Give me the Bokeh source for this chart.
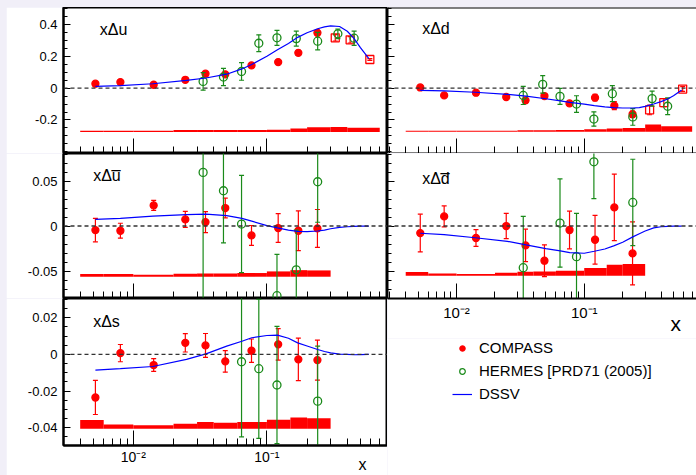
import numpy as np
from bokeh.plotting import figure
from bokeh.models import (Range1d, FixedTicker, Span, Label, Legend, LegendItem, Spacer,
                          ColumnDataSource, LogAxis)
from bokeh.layouts import column, row
from bokeh.embed import file_html
from bokeh.resources import INLINE

# ---------------- data ----------------
x_compass = [0.0052, 0.0080, 0.0142, 0.0245, 0.0347, 0.0488, 0.0767, 0.1215, 0.172, 0.239]
x_square = [0.325, 0.42, 0.59]
x_hermes = [0.0333, 0.0473, 0.0646, 0.087, 0.119, 0.166, 0.24, 0.34, 0.45]
x_dssv = [0.0052, 0.008, 0.014, 0.025, 0.035, 0.05, 0.065, 0.077, 0.1, 0.12, 0.145,
          0.17, 0.2, 0.24, 0.27, 0.3, 0.35, 0.4, 0.45, 0.5, 0.58]

# xΔu
u_compass = [0.0275, 0.0375, 0.021, 0.052, 0.090, 0.086, 0.142, 0.163, 0.221, 0.346]
u_compass_err = [0.006, 0.006, 0.006, 0.006, 0.01, 0.01, 0.01, 0.01, 0.016, 0.018]
u_square = [0.315, 0.3025, 0.179]
u_square_err = [0.02, 0.02, 0.006]
u_hermes = [0.042, 0.069, 0.104, 0.281, 0.315, 0.31, 0.294, 0.34, 0.3125]
u_hermes_err = [0.055, 0.054, 0.055, 0.053, 0.047, 0.047, 0.055, 0.03, 0.045]
u_dssv = [0.011, 0.015, 0.027, 0.048, 0.063, 0.087, 0.12, 0.148, 0.2, 0.24, 0.28,
          0.318, 0.347, 0.372, 0.384, 0.39, 0.386, 0.356, 0.31, 0.255, 0.185]

# xΔd
d_compass = [0.004, -0.046, -0.029, -0.056, -0.077, -0.05, -0.096, -0.06, -0.11, -0.164]
d_compass_err = [0.015, 0.006, 0.006, 0.006, 0.015, 0.008, 0.012, 0.02, 0.025, 0.02]
d_square = [-0.137, -0.091, -0.006]
d_square_err = [0.03, 0.025, 0.015]
d_hermes = [-0.046, 0.023, -0.052, -0.1, -0.194, -0.035, -0.181, -0.066, -0.114]
d_hermes_err = [0.057, 0.055, 0.05, 0.052, 0.045, 0.05, 0.052, 0.047, 0.052]
d_dssv = [-0.014, -0.018, -0.026, -0.039, -0.05, -0.067, -0.08, -0.09, -0.1, -0.11, -0.118,
          -0.123, -0.125, -0.125, -0.122, -0.115, -0.1, -0.085, -0.068, -0.048, -0.012]

# xΔū
ub_compass = [-0.0045, -0.0052, 0.0229, 0.0074, 0.0044, 0.020, -0.0104, -0.0022, -0.0052, -0.0026]
ub_compass_err = [0.013, 0.0083, 0.0056, 0.0089, 0.0117, 0.011, 0.011, 0.016, 0.022, 0.021]
x_hermes_ub = [0.0333, 0.0473, 0.0646, 0.119, 0.166, 0.24]
ub_hermes = [0.0596, 0.0392, 0.0022, -0.0774, -0.0486, 0.0492]
ub_hermes_err = [0.15, 0.058, 0.054, 0.046, 0.044, 0.045]
ub_dssv = [0.0074, 0.0085, 0.011, 0.0126, 0.0133, 0.0115, 0.0085, 0.0055, 0.0005, -0.002, -0.0045,
           -0.006, -0.0062, -0.0055, -0.0045, -0.003, -0.0015, -0.0008, -0.0003, 0.0, 0.0]

# xΔd̄
db_compass = [-0.0078, 0.0107, -0.0133, 0.0, -0.0215, -0.0385, -0.0044, -0.0152, 0.0207, -0.0304]
db_compass_err = [0.021, 0.0117, 0.0093, 0.014, 0.018, 0.0176, 0.021, 0.027, 0.037, 0.035]
x_hermes_db = [0.0333, 0.0646, 0.087, 0.119, 0.24]
db_hermes = [-0.0463, 0.0033, -0.034, 0.0714, 0.0262]
db_hermes_err = [0.057, 0.049, 0.048, 0.041, 0.048]
db_dssv = [-0.008, -0.0095, -0.013, -0.017, -0.021, -0.025, -0.0275, -0.0296, -0.0302, -0.028, -0.0255,
           -0.022, -0.018, -0.012, -0.0085, -0.0055, -0.002, -0.0008, -0.0003, 0.0, 0.0]

# xΔs
s_compass = [-0.0235, 0.0007, -0.0058, 0.0063, 0.0049, -0.0038, 0.0020, 0.0055, -0.0027, -0.0031]
s_compass_err = [0.0093, 0.0047, 0.0035, 0.005, 0.0065, 0.0059, 0.0064, 0.0086, 0.0116, 0.0109]
x_hermes_s = [0.0646, 0.087, 0.119, 0.24]
s_hermes = [-0.004, -0.0078, -0.0167, -0.0255]
s_hermes_err = [0.041, 0.038, 0.032, 0.030]
s_dssv = [-0.0086, -0.0078, -0.0066, -0.0027, 0.0003, 0.0045, 0.0072, 0.0091, 0.0103, 0.0105, 0.0088,
          0.0063, 0.0046, 0.0027, 0.0016, 0.0008, 0.0002, 0.0, -0.0002, -0.0001, 0.0]

# systematic bands (bin edges, baseline, size)
edges_long = [0.004, 0.006, 0.01, 0.02, 0.03, 0.04, 0.06, 0.1, 0.15, 0.2, 0.3, 0.4, 0.7]
edges_short = [0.004, 0.006, 0.01, 0.02, 0.03, 0.04, 0.06, 0.1, 0.15, 0.2, 0.3]
u_sys_base, u_sys = -0.275, [0.008, 0.008, 0.008, 0.012, 0.012, 0.012, 0.012, 0.014, 0.021, 0.029, 0.031, 0.027]
d_sys_base, d_sys = -0.273, [0.005, 0.005, 0.005, 0.006, 0.008, 0.008, 0.01, 0.015, 0.019, 0.023, 0.044, 0.033]
ub_sys_base, ub_sys = -0.0563, [0.003, 0.003, 0.0022, 0.0033, 0.0037, 0.0037, 0.0041, 0.0059, 0.0073, 0.0070]
db_sys_base, db_sys = -0.0552, [0.0041, 0.0026, 0.0019, 0.0033, 0.0044, 0.0048, 0.0056, 0.0085, 0.0122, 0.0130]
s_sys_base, s_sys = -0.0406, [0.0048, 0.0024, 0.0019, 0.0027, 0.0037, 0.0033, 0.0037, 0.0049, 0.0062, 0.0058]

# axis ticks and labels
x_major = [0.01, 0.1]
x_major_labels = ["10\u207b\u00b2", "10\u207b\u00b9"]
x_minor = [0.003, 0.004, 0.005, 0.006, 0.007, 0.008, 0.009,
           0.02, 0.03, 0.04, 0.05, 0.06, 0.07, 0.08, 0.09,
           0.2, 0.3, 0.4, 0.5, 0.6, 0.7, 0.8]
x_title = "x"
x_title_pos = 0.52
ud_yticks = [-0.2, 0.0, 0.2, 0.4]
ud_ylabels = ["-0.2", "0", "0.2", "0.4"]
sea_yticks = [-0.05, 0.0, 0.05]
sea_ylabels = ["-0.05", "0", "0.05"]
s_yticks = [-0.04, -0.02, 0.0, 0.02]
s_ylabels = ["-0.04", "-0.02", "0", "0.02"]
legend_labels = ["COMPASS", "HERMES [PRD71 (2005)]", "DSSV"]

FONT = "Liberation Sans"
RED = "#ff0000"
GREEN = "#1a8a1a"
BLUE = "#0000ff"
LAV = "#f1eff8"


def minor_ticks(lo, hi, step):
    n = int(round((hi - lo) / step))
    return [round(lo + i * step, 4) for i in range(n + 1)]


def make_panel(width, height, xr, yr, yticks, ylabels, yminor, left_border, bottom_border,
               show_ylabels, show_xlabels, outline, xfont="15px", xstandoff=5):
    p = figure(width=width, height=height, x_axis_type="log",
               x_range=Range1d(*xr), y_range=Range1d(*yr),
               output_backend="svg", toolbar_location=None,
               min_border_left=left_border, min_border_right=0,
               min_border_top=0, min_border_bottom=bottom_border,
               background_fill_color="white", border_fill_color="white")
    p.grid.visible = False
    if outline:
        p.outline_line_color = "black"
        p.outline_line_width = 2
    else:
        p.outline_line_color = None
    xa = p.xaxis[0]
    xa.ticker = FixedTicker(ticks=x_major, minor_ticks=x_minor)
    xa.major_tick_in = 15
    xa.major_tick_out = 0
    xa.minor_tick_in = 7
    xa.minor_tick_out = 0
    xa.axis_line_width = 2
    xa.major_tick_line_width = 1
    xa.minor_tick_line_width = 1
    xa.major_label_text_font = FONT
    xa.major_label_text_color = "black"
    if show_xlabels:
        xa.major_label_overrides = {float(t): s for t, s in zip(x_major, x_major_labels)}
        xa.major_label_text_font_size = xfont
        xa.major_label_standoff = xstandoff
    else:
        xa.major_label_overrides = {float(t): "" for t in x_major}
        xa.major_label_text_font_size = "1px"
        xa.major_label_standoff = 0
    ya = p.yaxis[0]
    ya.ticker = FixedTicker(ticks=yticks, minor_ticks=yminor)
    ya.major_tick_in = 7
    ya.major_tick_out = 0
    ya.minor_tick_in = 4
    ya.minor_tick_out = 0
    ya.axis_line_width = 2
    ya.major_label_text_font = FONT
    ya.major_label_text_color = "black"
    if show_ylabels:
        ya.major_label_overrides = {float(t): s for t, s in zip(yticks, ylabels)}
        ya.major_label_text_font_size = "13px"
        ya.major_label_standoff = 6
    else:
        ya.major_label_overrides = {float(t): "" for t in yticks}
        ya.major_label_text_font_size = "1px"
        ya.major_label_standoff = 0
    p.add_layout(Span(location=0, dimension="width", line_color="#333333",
                      line_width=1.4, line_dash="4 3"))
    return p


def add_x_title(p, size, standoff):
    # axis title "x" near the right end, drawn as a second tick-less bottom axis
    ax = LogAxis(ticker=FixedTicker(ticks=[x_title_pos]),
                 major_label_overrides={x_title_pos: x_title},
                 major_label_text_font=FONT, major_label_text_font_size=size,
                 major_label_text_color="black", major_label_standoff=standoff,
                 major_tick_in=0, major_tick_out=0, minor_tick_in=0, minor_tick_out=0,
                 axis_line_color=None, major_tick_line_color=None, minor_tick_line_color=None)
    p.add_layout(ax, "below")


def blank(width, height, xr, yr):
    p = figure(width=width, height=height, x_range=Range1d(*xr), y_range=Range1d(*yr),
               output_backend="svg", toolbar_location=None,
               min_border_left=0, min_border_right=0, min_border_top=0, min_border_bottom=0,
               background_fill_color="white", border_fill_color="white")
    p.axis.visible = False
    p.grid.visible = False
    p.outline_line_color = None
    return p


def add_band(p, edges, base, sys):
    p.quad(left=edges[:-1], right=edges[1:], bottom=[base] * len(sys),
           top=[base + v for v in sys], fill_color=RED, line_color=None)


def add_points(p, xs, ys, es, color, marker, size, fill):
    src = ColumnDataSource(dict(x=xs, y=ys,
                                lo=[y - e for y, e in zip(ys, es)],
                                hi=[y + e for y, e in zip(ys, es)]))
    p.segment(x0="x", y0="lo", x1="x", y1="hi", source=src, line_color=color, line_width=1.2)
    p.scatter(x="x", y="lo", source=src, marker="dash", size=5, line_color=color, line_width=1.2)
    p.scatter(x="x", y="hi", source=src, marker="dash", size=5, line_color=color, line_width=1.2)
    return p.scatter(x="x", y="y", source=src, marker=marker, size=size,
                     line_color=color, line_width=1.3,
                     fill_color=color if fill else "white", fill_alpha=1.0 if fill else 0.0)


def add_label(p, text, x, y, size="16px"):
    p.add_layout(Label(x=x, y=y, text=text, text_font=FONT, text_font_size=size,
                       text_baseline="middle", text_color="black"))


XR_L = (0.003, 0.8)
XR_R = (0.00288, 0.757)

# ---- left column ----
pu = make_panel(381, 146, XR_L, (-0.41, 0.505), ud_yticks, ud_ylabels, minor_ticks(-0.4, 0.5, 0.05),
                57, 0, True, False, True)
add_band(pu, edges_long, u_sys_base, u_sys)
add_points(pu, x_compass, u_compass, u_compass_err, RED, "circle", 7, True)
add_points(pu, x_square, u_square, u_square_err, RED, "square", 8, False)
add_points(pu, x_hermes, u_hermes, u_hermes_err, GREEN, "circle", 8, False)
pu.line(x_dssv, u_dssv, line_color=BLUE, line_width=1.2)
add_label(pu, "x\u0394u", 0.0056, 0.367)

pub = make_panel(381, 145, XR_L, (-0.0805, 0.0806), sea_yticks, sea_ylabels, minor_ticks(-0.08, 0.08, 0.01),
                 57, 0, True, False, True)
add_band(pub, edges_short, ub_sys_base, ub_sys)
add_points(pub, x_compass, ub_compass, ub_compass_err, RED, "circle", 7, True)
add_points(pub, x_hermes_ub, ub_hermes, ub_hermes_err, GREEN, "circle", 8, False)
pub.line(x_dssv, ub_dssv, line_color=BLUE, line_width=1.2)
add_label(pub, "x\u0394u\u0305", 0.0050, 0.0559)

ps = make_panel(381, 177, XR_L, (-0.0497, 0.0305), s_yticks, s_ylabels, minor_ticks(-0.05, 0.03, 0.005),
                57, 30, True, True, True, xfont="14px", xstandoff=3)
add_band(ps, edges_short, s_sys_base, s_sys)
add_points(ps, x_compass, s_compass, s_compass_err, RED, "circle", 7, True)
add_points(ps, x_hermes_s, s_hermes, s_hermes_err, GREEN, "circle", 8, False)
ps.line(x_dssv, s_dssv, line_color=BLUE, line_width=1.2)
add_label(ps, "x\u0394s", 0.0050, 0.0179)
add_x_title(ps, "16px", -12)

# ---- right column ----
pd = make_panel(309, 146, XR_R, (-0.41, 0.505), ud_yticks, ud_ylabels, minor_ticks(-0.4, 0.5, 0.05),
                0, 0, False, False, False)
pd.add_layout(Span(location=0.505, dimension="width", line_color="black", line_width=2))
add_band(pd, edges_long, d_sys_base, d_sys)
add_points(pd, x_compass, d_compass, d_compass_err, RED, "circle", 7, True)
add_points(pd, x_square, d_square, d_square_err, RED, "square", 8, False)
add_points(pd, x_hermes, d_hermes, d_hermes_err, GREEN, "circle", 8, False)
pd.line(x_dssv, d_dssv, line_color=BLUE, line_width=1.2)
add_label(pd, "x\u0394d", 0.00538, 0.373)

pdb = make_panel(309, 185, XR_R, (-0.0805, 0.0806), sea_yticks, sea_ylabels, minor_ticks(-0.08, 0.08, 0.01),
                 0, 40, False, True, False)
add_band(pdb, edges_short, db_sys_base, db_sys)
add_points(pdb, x_compass, db_compass, db_compass_err, RED, "circle", 7, True)
add_points(pdb, x_hermes_db, db_hermes, db_hermes_err, GREEN, "circle", 8, False)
pdb.line(x_dssv, db_dssv, line_color=BLUE, line_width=1.2)
add_label(pdb, "x\u0394d\u0305", 0.00538, 0.0531)
add_x_title(pdb, "21px", -12)

# legend area (lower right)
pl = blank(309, 137, (0, 1), (0, 1))
offscreen = ColumnDataSource(dict(x=[-10], y=[-10]))
lr_c = pl.scatter(x="x", y="y", source=offscreen, marker="circle", size=6, fill_color=RED, line_color=RED)
lr_h = pl.scatter(x="x", y="y", source=offscreen, marker="circle", size=6, fill_color="white",
                  line_color=GREEN, line_width=1.2)
lr_l = pl.line(x="x", y="y", source=offscreen, line_color=BLUE, line_width=1.2)
legend = Legend(items=[LegendItem(label=legend_labels[0], renderers=[lr_c]),
                       LegendItem(label=legend_labels[1], renderers=[lr_h]),
                       LegendItem(label=legend_labels[2], renderers=[lr_l])],
                location=(65, 72), orientation="vertical",
                border_line_color=None, background_fill_alpha=0.0,
                padding=0, margin=0, spacing=4, label_height=19, glyph_height=14,
                glyph_width=20, label_standoff=7,
                label_text_font=FONT, label_text_font_size="15px", label_text_color="black")
pl.add_layout(legend)

left_col = column(pu, pub, ps, spacing=0)
right_col = column(pd, pdb, pl, spacing=0)
body = row(Spacer(width=6, height=468, styles={"background-color": LAV}), left_col, right_col, spacing=0)
layout = column(Spacer(width=696, height=7, styles={"background-color": LAV}), body, spacing=0,
                styles={"background-color": LAV})

html = file_html(layout, INLINE, "Polarized PDFs")
html = html.replace("</head>", "<style>html,body{margin:0;padding:0;overflow:hidden;}</style></head>", 1)
open("out.html", "w").write(html)
